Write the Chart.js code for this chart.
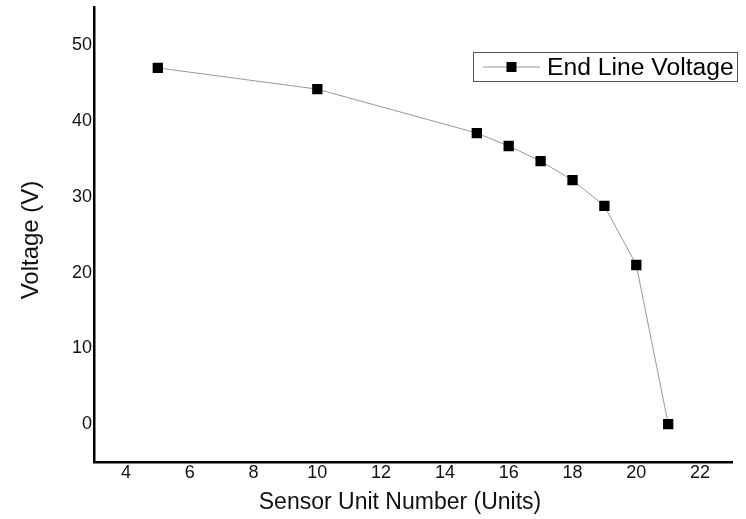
<!DOCTYPE html>
<html>
<head>
<meta charset="utf-8">
<script src="https://cdn.jsdelivr.net/npm/chart.js@4/dist/chart.umd.min.js"></script>
<style>
  html, body { margin: 0; padding: 0; background: #fff; }
  #wrap { width: 746px; height: 519px; }
</style>
</head>
<body>
<div id="wrap"><canvas id="c" width="746" height="519"></canvas></div>
<script>
// ---- data ----
const seriesLabel = "End Line Voltage";
const sensorUnits = [5, 10, 15, 16, 17, 18, 19, 20, 21];
const voltages    = [47.0, 44.2, 38.4, 36.7, 34.7, 32.2, 28.8, 21.0, 0.0];
const xTickValues = [4, 6, 8, 10, 12, 14, 16, 18, 20, 22];
const yTickValues = [0, 10, 20, 30, 40, 50];
const xTitle = "Sensor Unit Number (Units)";
const yTitle = "Voltage (V)";

const FONT = "'Liberation Sans', Arial, sans-serif";

const legendInside = {
  id: 'legendInside',
  afterDraw(chart) {
    const ctx = chart.ctx;
    const ds = chart.data.datasets[0];
    const left = 473.5, top = 52.5, w = 264, h = 29;
    ctx.save();
    ctx.fillStyle = '#fff';
    ctx.fillRect(left, top, w, h);
    ctx.strokeStyle = '#555';
    ctx.lineWidth = 1;
    ctx.strokeRect(left, top, w, h);
    const cy = top + h / 2;
    ctx.strokeStyle = ds.borderColor;
    ctx.lineWidth = 1;
    ctx.beginPath();
    ctx.moveTo(483, cy);
    ctx.lineTo(540, cy);
    ctx.stroke();
    ctx.fillStyle = '#000';
    ctx.fillRect(511.5 - 5, cy - 5, 10, 10);
    ctx.font = '24.7px ' + FONT;
    ctx.textBaseline = 'middle';
    ctx.textAlign = 'left';
    ctx.fillStyle = '#000';
    ctx.fillText(ds.label, 547, cy + 1);
    ctx.restore();
  }
};

// axis titles drawn at the reference's (slightly off-centre) positions
const axisTitles = {
  id: 'axisTitles',
  afterDraw(chart) {
    const ctx = chart.ctx;
    ctx.save();
    ctx.fillStyle = '#111';
    ctx.textAlign = 'center';
    ctx.textBaseline = 'middle';
    ctx.font = '23px ' + FONT;
    ctx.fillText(xTitle, 400, 503);
    ctx.translate(31.5, 240);
    ctx.rotate(-Math.PI / 2);
    ctx.font = '24px ' + FONT;
    ctx.fillText(yTitle, 0, 0);
    ctx.restore();
  }
};

new Chart(document.getElementById('c'), {
  type: 'line',
  data: {
    datasets: [{
      label: seriesLabel,
      data: sensorUnits.map((x, i) => ({ x: x, y: voltages[i] })),
      borderColor: '#999',
      borderWidth: 1,
      pointStyle: 'rect',
      pointRadius: 7.3,
      pointHoverRadius: 7.3,
      pointBackgroundColor: '#000',
      pointBorderColor: '#000',
      pointBorderWidth: 0,
      tension: 0,
      fill: false
    }]
  },
  options: {
    responsive: false,
    animation: false,
    events: [],
    layout: { padding: { left: 0, top: 6, right: 14, bottom: 0 } },
    plugins: {
      legend: { display: false },
      tooltip: { enabled: false },
      title: { display: false }
    },
    scales: {
      x: {
        type: 'linear',
        min: 3,
        max: 23,
        grid: { display: false, drawTicks: false },
        border: { display: true, color: '#000', width: 2.5 },
        afterBuildTicks: s => { s.ticks = xTickValues.map(v => ({ value: v })); },
        afterFit: s => { s.height = 57; s.paddingLeft = 0; s.paddingRight = 0; },
        ticks: {
          padding: 0,
          color: '#111',
          maxRotation: 0,
          autoSkip: false,
          font: { family: FONT, size: 18 }
        },
        title: { display: false, text: xTitle }
      },
      y: {
        type: 'linear',
        min: -5,
        max: 55,
        grid: { display: false, drawTicks: false },
        border: { display: true, color: '#000', width: 2.5 },
        afterBuildTicks: s => { s.ticks = yTickValues.map(v => ({ value: v })); },
        afterFit: s => { s.width = 94; s.paddingTop = 0; s.paddingBottom = 0; },
        ticks: {
          padding: 2,
          color: '#111',
          autoSkip: false,
          font: { family: FONT, size: 18 }
        },
        title: { display: false, text: yTitle }
      }
    }
  },
  plugins: [legendInside, axisTitles]
});
</script>
</body>
</html>
